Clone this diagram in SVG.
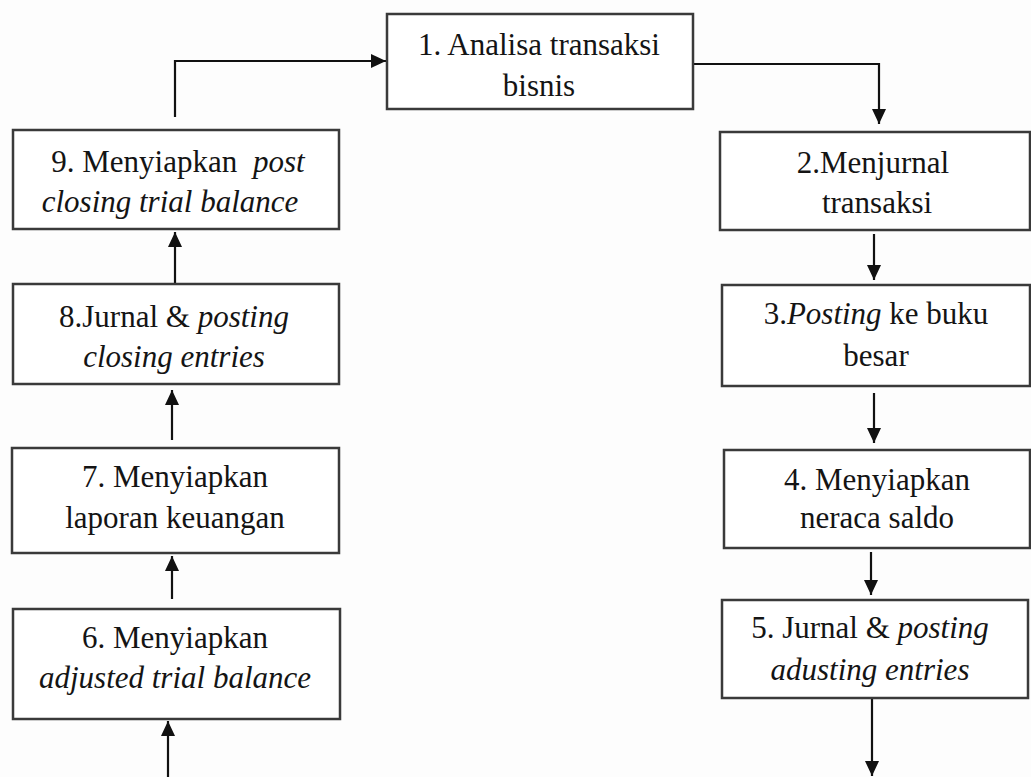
<svg xmlns="http://www.w3.org/2000/svg" width="1031" height="777" viewBox="0 0 1031 777">
<style>
.box{fill:#fff;stroke:#3a3a3a;stroke-width:2.5}
.t{font-family:'Liberation Serif',Tinos,'Noto Serif','DejaVu Serif',serif;font-size:31px;fill:#141414;text-anchor:middle}
.i{font-style:italic}
.c{fill:none;stroke:#111;stroke-width:2.2}
</style>
<defs>
<marker id="ah" markerUnits="userSpaceOnUse" markerWidth="15" markerHeight="14" refX="15" refY="7" orient="auto">
<path d="M0,0 L15,7 L0,14 z" fill="#111"/>
</marker>
</defs>
<rect width="1031" height="777" fill="#fdfdfd"/>
<g id="connectors">
<path class="c" d="M175,117 V61 H386" marker-end="url(#ah)"/>
<path class="c" d="M693,64 H879 V124" marker-end="url(#ah)"/>
<path class="c" d="M874,234 V280" marker-end="url(#ah)"/>
<path class="c" d="M874,393 V443" marker-end="url(#ah)"/>
<path class="c" d="M871,552 V595" marker-end="url(#ah)"/>
<path class="c" d="M872,698 V776" marker-end="url(#ah)"/>
<path class="c" d="M168,777 V721" marker-end="url(#ah)"/>
<path class="c" d="M172,599 V556" marker-end="url(#ah)"/>
<path class="c" d="M172,440 V390" marker-end="url(#ah)"/>
<path class="c" d="M175,283 V232" marker-end="url(#ah)"/>
</g>
<g id="node1">
<rect class="box" x="387" y="14" width="306" height="95"/>
<text class="t" x="539" y="55">1. Analisa transaksi</text>
<text class="t" x="539" y="96">bisnis</text>
</g>
<g id="node2">
<rect class="box" x="720" y="132" width="310" height="98"/>
<text class="t" x="873" y="173">2.Menjurnal</text>
<text class="t" x="877" y="213">transaksi</text>
</g>
<g id="node3">
<rect class="box" x="722" y="285" width="308" height="101"/>
<text class="t" x="876" y="324">3.<tspan class="i">Posting</tspan> ke buku</text>
<text class="t" x="876" y="366">besar</text>
</g>
<g id="node4">
<rect class="box" x="724" y="450" width="306" height="98"/>
<text class="t" x="877" y="490">4. Menyiapkan</text>
<text class="t" x="877" y="528">neraca saldo</text>
</g>
<g id="node5">
<rect class="box" x="722" y="600" width="306" height="98"/>
<text class="t" x="870" y="638">5. Jurnal &amp; <tspan class="i">posting</tspan></text>
<text class="t i" x="870" y="680">adusting entries</text>
</g>
<g id="node6">
<rect class="box" x="13" y="609" width="327" height="110"/>
<text class="t" x="175" y="648">6. Menyiapkan</text>
<text class="t i" x="175" y="688">adjusted trial balance</text>
</g>
<g id="node7">
<rect class="box" x="12" y="448" width="327" height="105"/>
<text class="t" x="175" y="487">7. Menyiapkan</text>
<text class="t" x="175" y="528">laporan keuangan</text>
</g>
<g id="node8">
<rect class="box" x="13" y="284" width="326" height="100"/>
<text class="t" x="174" y="327">8.Jurnal &amp; <tspan class="i">posting</tspan></text>
<text class="t i" x="174" y="367">closing entries</text>
</g>
<g id="node9">
<rect class="box" x="13" y="130" width="326" height="99"/>
<text class="t" x="178" y="172">9. Menyiapkan <tspan class="i" dx="8">post</tspan></text>
<text class="t i" x="170" y="212">closing trial balance</text>
</g>
</svg>
